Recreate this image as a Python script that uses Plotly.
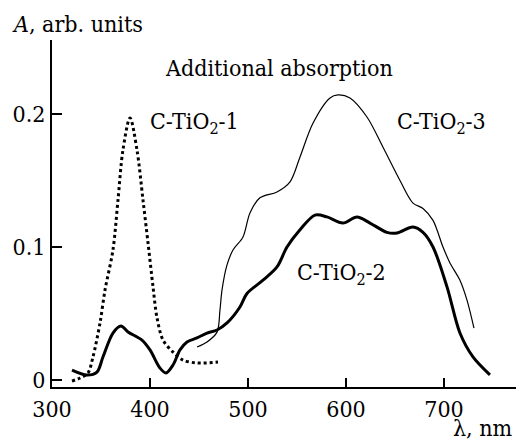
import plotly.graph_objects as go

# Additional absorption spectra of carbon-modified TiO2 samples
wl_1 = [320.4, 328.6, 336.7, 341.8, 349.0, 354.1, 362.2, 367.3, 372.4, 379.6,
        386.7, 392.9, 398.0, 403.1, 407.1, 413.3, 423.5, 433.7, 448.0, 469.4]
abs_1 = [-0.0008, 0.0015, 0.0053, 0.0173, 0.0429, 0.0677, 0.0977, 0.135, 0.173, 0.197,
         0.173, 0.135, 0.103, 0.070, 0.047, 0.030, 0.021, 0.015, 0.0128, 0.0135]

wl_2 = [320.4, 335.7, 345.9, 352.0, 362.2, 370.4, 377.6, 391.8, 400.0, 410.2,
        416.3, 423.5, 430.6, 437.8, 448.0, 458.2, 468.4, 478.6, 491.8, 499.0,
        515.3, 529.6, 539.8, 553.1, 568.4, 580.6, 596.9, 611.2, 624.5, 641.8,
        652.0, 668.4, 678.6, 688.8, 703.1, 716.3, 729.6, 746.9]
abs_2 = [0.0075, 0.0038, 0.006, 0.0173, 0.0353, 0.0406, 0.0361, 0.030, 0.0226, 0.009,
         0.0053, 0.0113, 0.0226, 0.0286, 0.0316, 0.0353, 0.0376, 0.0429, 0.0549, 0.065,
         0.075, 0.085, 0.100, 0.113, 0.124, 0.1226, 0.118, 0.1226, 0.118, 0.111,
         0.1105, 0.115, 0.111, 0.100, 0.070, 0.0353, 0.0173, 0.0038]

wl_3 = [448.0, 458.2, 468.4, 471.4, 473.5, 478.6, 484.7, 494.9, 502.0, 512.2,
        529.6, 542.9, 553.1, 566.3, 583.7, 591.8, 604.1, 621.4, 637.8, 655.1,
        668.4, 678.6, 688.8, 699.0, 706.1, 716.3, 723.5, 730.6]
abs_3 = [0.0248, 0.0286, 0.036, 0.0526, 0.0677, 0.0865, 0.0977, 0.1075, 0.1256, 0.137,
         0.1414, 0.149, 0.1677, 0.193, 0.212, 0.2143, 0.212, 0.1977, 0.175, 0.150,
         0.133, 0.129, 0.120, 0.100, 0.088, 0.075, 0.060, 0.039]

x_ticks = [300, 400, 500, 600, 700]
y_ticks = [0, 0.1, 0.2]
y_tick_text = ["0", "0.1", "0.2"]

FONT = "DejaVu Serif Condensed"
FS = 23

fig = go.Figure()
fig.add_trace(go.Scatter(x=wl_1, y=abs_1, mode="lines",
                         line=dict(color="black", width=3, dash="dot", shape="spline", smoothing=0.9)))
fig.add_trace(go.Scatter(x=wl_2, y=abs_2, mode="lines",
                         line=dict(color="black", width=3, shape="spline", smoothing=0.9)))
fig.add_trace(go.Scatter(x=wl_3, y=abs_3, mode="lines",
                         line=dict(color="black", width=1.2, shape="spline", smoothing=0.9)))

txt = dict(family=FONT, size=FS, color="black")
annotations = [
    dict(text="<i>A</i>, arb. units", xref="paper", yref="paper", x=-0.0905, y=1.0447,
         xanchor="left", yanchor="middle"),
    dict(text="Additional absorption", xref="x", yref="y", x=413.3, y=0.2342,
         xanchor="left", yanchor="middle"),
    dict(text="C-TiO<sub>2</sub>-1", xref="x", yref="y", x=398, y=0.1932,
         xanchor="left", yanchor="middle"),
    dict(text="C-TiO<sub>2</sub>-3", xref="x", yref="y", x=650, y=0.1929,
         xanchor="left", yanchor="middle"),
    dict(text="C-TiO<sub>2</sub>-2", xref="x", yref="y", x=548, y=0.080,
         xanchor="left", yanchor="middle"),
    dict(text="λ, nm", xref="paper", yref="paper", x=0.998, y=-0.117,
         xanchor="right", yanchor="middle"),
]
for a in annotations:
    a.update(showarrow=False, font=txt)

fig.update_layout(
    width=516, height=445,
    margin=dict(l=52, r=0, t=40, b=58),
    paper_bgcolor="white", plot_bgcolor="white",
    showlegend=False,
    font=txt,
    annotations=annotations,
    xaxis=dict(range=[300, 773.5], tickvals=x_ticks, ticks="inside", ticklen=9,
               tickwidth=2, tickcolor="black", showline=True, linewidth=2,
               linecolor="black", showgrid=False, zeroline=False,
               tickfont=txt),
    yaxis=dict(range=[-0.00526, 0.2556], tickvals=y_ticks, ticktext=y_tick_text,
               ticks="inside", ticklen=10, tickwidth=2, tickcolor="black",
               showline=True, linewidth=2, linecolor="black", showgrid=False,
               zeroline=False, tickfont=txt),
)

fig.write_html("out.html")
